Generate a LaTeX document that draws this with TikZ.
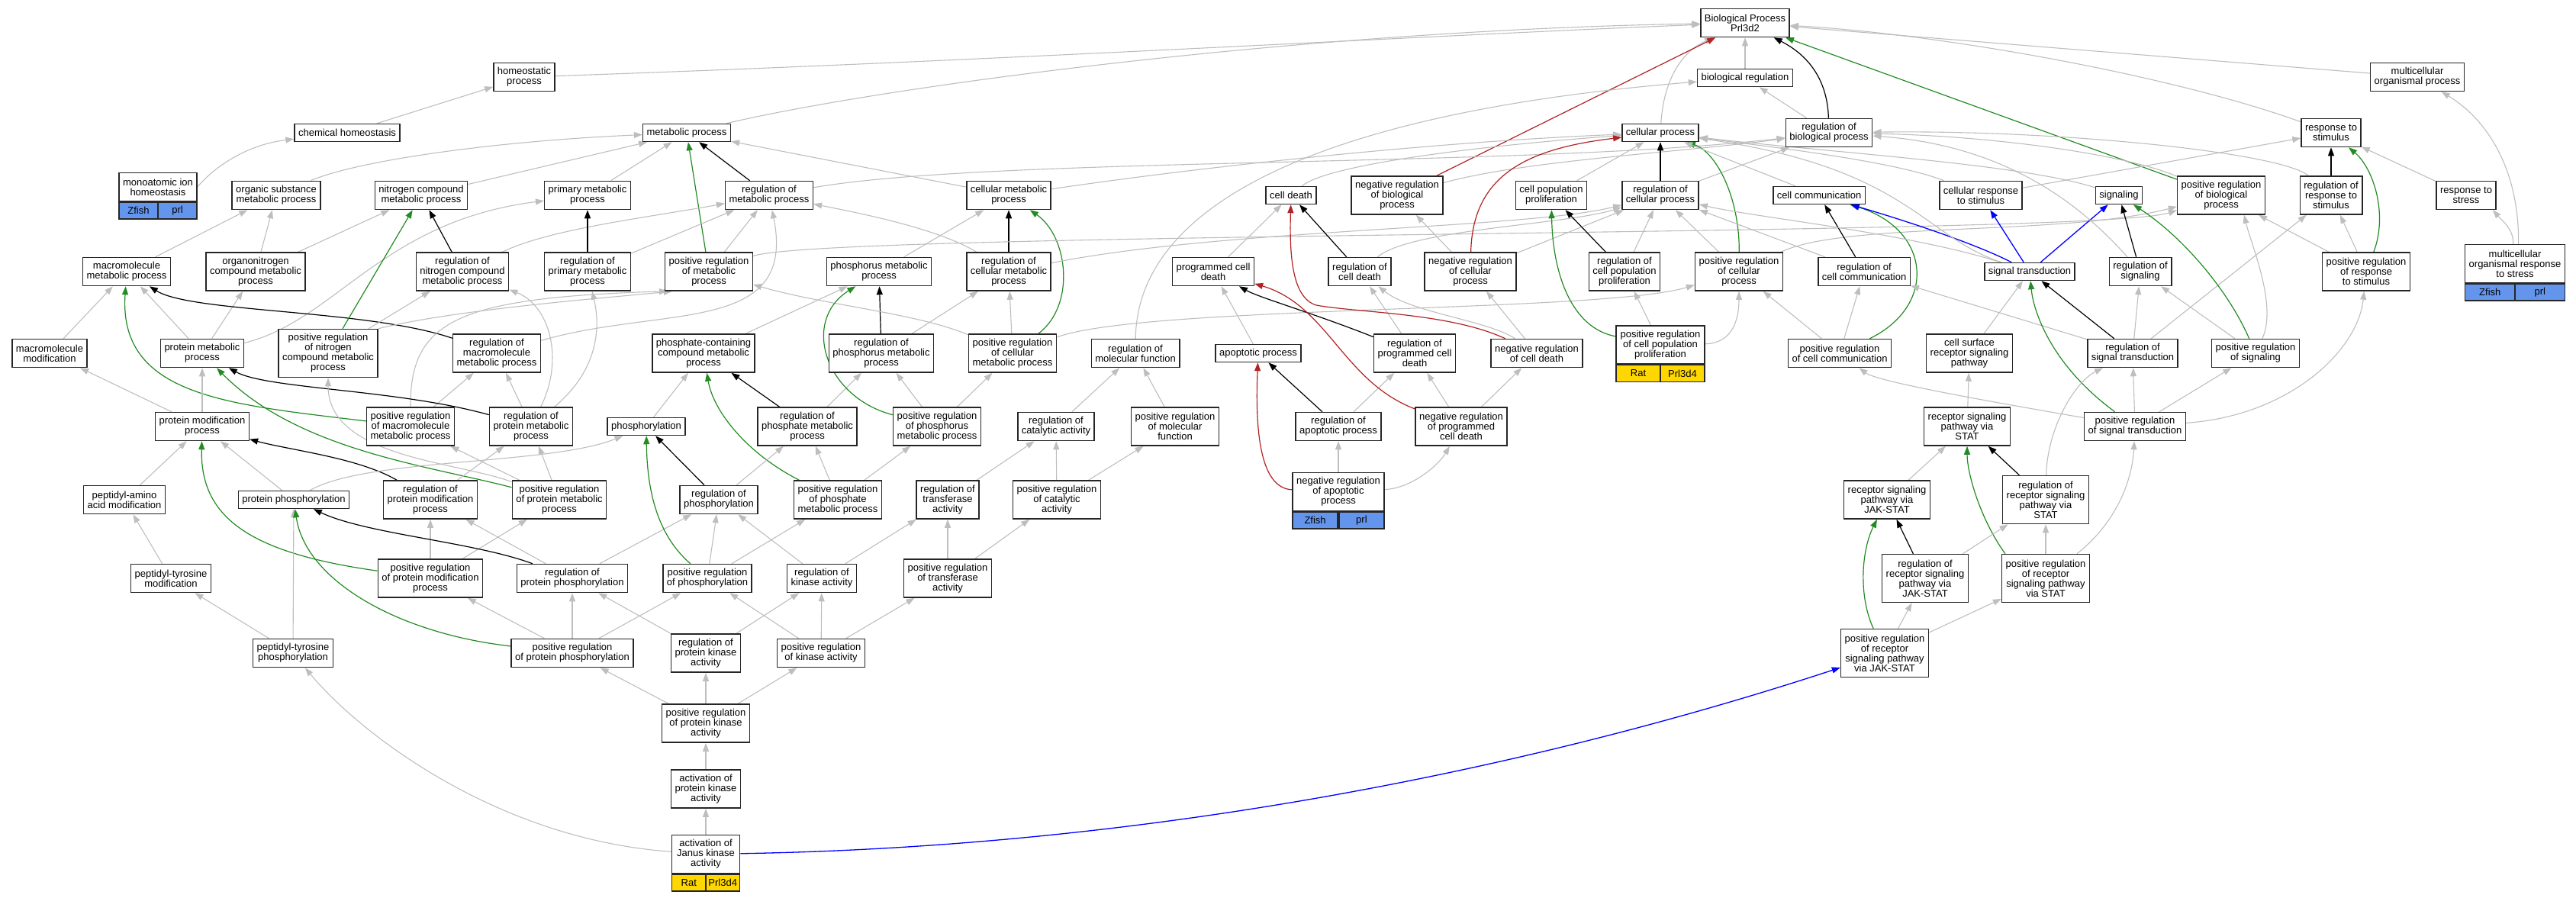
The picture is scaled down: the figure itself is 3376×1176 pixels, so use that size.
\documentclass[tikz,border=0pt]{standalone}
\usepackage{fontspec}
\setmainfont{Liberation Sans}
\usetikzlibrary{arrows.meta}

\definecolor{isagray}{RGB}{190,190,190}
\definecolor{posgreen}{RGB}{34,139,34}
\definecolor{negred}{RGB}{178,34,34}
\definecolor{partblue}{RGB}{0,0,255}
\definecolor{zfishblue}{RGB}{100,149,237}
\definecolor{ratgold}{RGB}{255,215,0}
\newcommand\golabel{\fontsize{13}{13}\selectfont}
\pgfdeclarelayer{edges}
\pgfsetlayers{edges,main}

\tikzset{
  go/.style={draw=black!85, line width=1.5pt, fill=white, font=\golabel, align=center,
    inner xsep=5pt, inner ysep=0pt, minimum height=23pt},
  h2/.style={minimum height=37pt},
  h3/.style={minimum height=50pt},
  h4/.style={minimum height=63pt},
  tag/.style={draw=black!85, line width=1.5pt, font=\golabel, inner sep=0pt, minimum height=22pt},
  isa/.style={color=isagray, line width=1.1pt, -{Triangle[length=11pt,width=8pt]}},
  reg/.style={color=black, line width=1.2pt, -{Triangle[length=11pt,width=8pt]}},
  posreg/.style={color=posgreen, line width=1.2pt, -{Triangle[length=11pt,width=8pt]}},
  negreg/.style={color=negred, line width=1.2pt, -{Triangle[length=11pt,width=8pt]}},
  partof/.style={color=partblue, line width=1.3pt, -{Triangle[length=11pt,width=8pt]}}
}

\begin{document}
\begin{tikzpicture}[x=1pt,y=-1pt]
    \useasboundingbox (0,0) rectangle (3376,1176);

    % rank 0 and 1
    \node[go,h2] (bp) at (2287,30) {Biological Process\\Prl3d2};
    \node[go,h2] (homeo) at (687,101) {homeostatic\\process};
    \node[go] (bioreg) at (2287,102) {biological regulation};
    \node[go,h2] (multi) at (3168,101) {multicellular\\organismal process};

    % rank 2
    \node[go] (chemho) at (455,174) {chemical homeostasis};
    \node[go] (metab) at (900,174) {metabolic process};
    \node[go] (cellp) at (2176,174) {cellular process};
    \node[go,h2] (regbio) at (2397,174) {regulation of\\biological process};
    \node[go,h2] (resp) at (3055,174) {response to\\stimulus};

    % rank 3
    \node[go,h2,minimum width=102pt] (monoion) at (207,245) {monoatomic ion\\homeostasis};
    \node[tag,fill=zfishblue,minimum width=51pt,anchor=north west] (monoion-a) at (monoion.south west) {Zfish};
    \node[tag,fill=zfishblue,minimum width=51pt,anchor=north east] (monoion-b) at (monoion.south east) {prl};
    \node[go,h2] (orgsub) at (362,256) {organic substance\\metabolic process};
    \node[go,h2] (nitro) at (552,256) {nitrogen compound\\metabolic process};
    \node[go,h2] (prim) at (770,256) {primary metabolic\\process};
    \node[go,h2] (regmet) at (1008,256) {regulation of\\metabolic process};
    \node[go,h2] (cellmet) at (1322,256) {cellular metabolic\\process};
    \node[go] (death) at (1692,256) {cell death};
    \node[go,h3] (negbio) at (1831,256) {negative regulation\\of biological\\process};
    \node[go,h2] (prolif) at (2033,256) {cell population\\proliferation};
    \node[go,h2] (regcell) at (2176,256) {regulation of\\cellular process};
    \node[go] (comm) at (2384,256) {cell communication};
    \node[go,h2] (crs) at (2596,256) {cellular response\\to stimulus};
    \node[go] (signaling) at (2777,256) {signaling};
    \node[go,h3] (posbio) at (2911,256) {positive regulation\\of biological\\process};
    \node[go,h3] (regresp) at (3055,256) {regulation of\\response to\\stimulus};
    \node[go,h2] (stress) at (3232,256) {response to\\stress};

    % rank 4
    \node[go,h2] (macro) at (166,356) {macromolecule\\metabolic process};
    \node[go,h3] (orgN) at (335,356) {organonitrogen\\compound metabolic\\process};
    \node[go,h3] (regnitro) at (606,356) {regulation of\\nitrogen compound\\metabolic process};
    \node[go,h3] (regprim) at (770,356) {regulation of\\primary metabolic\\process};
    \node[go,h3] (posmet) at (929,356) {positive regulation\\of metabolic\\process};
    \node[go,h2] (phosphorus) at (1152,356) {phosphorus metabolic\\process};
    \node[go,h3] (regcellmet) at (1322,356) {regulation of\\cellular metabolic\\process};
    \node[go,h2] (pcd) at (1590,356) {programmed cell\\death};
    \node[go,h2] (regdeath) at (1782,356) {regulation of\\cell death};
    \node[go,h3] (negcell) at (1927,356) {negative regulation\\of cellular\\process};
    \node[go,h3] (regprolif) at (2129,356) {regulation of\\cell population\\proliferation};
    \node[go,h3] (poscell) at (2279,356) {positive regulation\\of cellular\\process};
    \node[go,h2] (regcomm) at (2443,356) {regulation of\\cell communication};
    \node[go] (sigtrans) at (2660,356) {signal transduction};
    \node[go,h2] (regsig) at (2805,356) {regulation of\\signaling};
    \node[go,h3] (posresp) at (3101,356) {positive regulation\\of response\\to stimulus};
    \node[go,h3,minimum width=131pt] (mors) at (3296,345.5) {multicellular\\organismal response\\to stress};
    \node[tag,fill=zfishblue,minimum width=65.5pt,anchor=north west] (mors-a) at (mors.south west) {Zfish};
    \node[tag,fill=zfishblue,minimum width=65.5pt,anchor=north east] (mors-b) at (mors.south east) {prl};

    % rank 5
    \node[go,h2] (macromod) at (65,463) {macromolecule\\modification};
    \node[go,h2] (protmet) at (265,463) {protein metabolic\\process};
    \node[go,h4] (posnitro) at (430,463) {positive regulation\\of nitrogen\\compound metabolic\\process};
    \node[go,h3] (regmacro) at (651,463) {regulation of\\macromolecule\\metabolic process};
    \node[go,h3] (phoscont) at (922,463) {phosphate-containing\\compound metabolic\\process};
    \node[go,h3] (regphosph) at (1155,463) {regulation of\\phosphorus metabolic\\process};
    \node[go,h3] (poscellmet) at (1327,463) {positive regulation\\of cellular\\metabolic process};
    \node[go,h2] (regmf) at (1488,463) {regulation of\\molecular function};
    \node[go] (apop) at (1649,463) {apoptotic process};
    \node[go,h3] (regpcd) at (1854,463) {regulation of\\programmed cell\\death};
    \node[go,h2] (negdeath) at (2014,463) {negative regulation\\of cell death};
    \node[go,h3,minimum width=116pt] (posprolif) at (2176,452) {positive regulation\\of cell population\\proliferation};
    \node[tag,fill=ratgold,minimum width=58pt,anchor=north west] (posprolif-a) at (posprolif.south west) {Rat};
    \node[tag,fill=ratgold,minimum width=58pt,anchor=north east] (posprolif-b) at (posprolif.south east) {Prl3d4};
    \node[go,h2] (poscomm) at (2411,463) {positive regulation\\of cell communication};
    \node[go,h3] (csr) at (2581,463) {cell surface\\receptor signaling\\pathway};
    \node[go,h2] (regst) at (2795,463) {regulation of\\signal transduction};
    \node[go,h2] (possig) at (2956,463) {positive regulation\\of signaling};

    % rank 6
    \node[go,h2] (protmod) at (265,559) {protein modification\\process};
    \node[go,h3] (posmacro) at (538,559) {positive regulation\\of macromolecule\\metabolic process};
    \node[go,h3] (regprotmet) at (696,559) {regulation of\\protein metabolic\\process};
    \node[go] (phos) at (847,559) {phosphorylation};
    \node[go,h3] (regphosphate) at (1058,559) {regulation of\\phosphate metabolic\\process};
    \node[go,h3] (posphosph) at (1228,559) {positive regulation\\of phosphorus\\metabolic process};
    \node[go,h2] (regcat) at (1384,559) {regulation of\\catalytic activity};
    \node[go,h3] (posmf) at (1540,559) {positive regulation\\of molecular\\function};
    \node[go,h2] (regapop) at (1754,559) {regulation of\\apoptotic process};
    \node[go,h3] (negpcd) at (1915,559) {negative regulation\\of programmed\\cell death};
    \node[go,h3] (rstat) at (2578,559) {receptor signaling\\pathway via\\STAT};
    \node[go,h2] (posst) at (2798,559) {positive regulation\\of signal transduction};

    % rank 7
    \node[go,h2] (pepaa) at (163,655) {peptidyl-amino\\acid modification};
    \node[go] (protphos) at (385,655) {protein phosphorylation};
    \node[go,h3] (regprotmod) at (564,655) {regulation of\\protein modification\\process};
    \node[go,h3] (posprotmet) at (733,655) {positive regulation\\of protein metabolic\\process};
    \node[go,h2] (regphos) at (942,655) {regulation of\\phosphorylation};
    \node[go,h3] (posphosphate) at (1098,655) {positive regulation\\of phosphate\\metabolic process};
    \node[go,h3] (regtrans) at (1242,655) {regulation of\\transferase\\activity};
    \node[go,h3] (poscat) at (1385,655) {positive regulation\\of catalytic\\activity};
    \node[go,h3,minimum width=118pt] (negapop) at (1754,644.5) {negative regulation\\of apoptotic\\process};
    \node[tag,fill=zfishblue,minimum width=59pt,anchor=north west] (negapop-a) at (negapop.south west) {Zfish};
    \node[tag,fill=zfishblue,minimum width=59pt,anchor=north east] (negapop-b) at (negapop.south east) {prl};
    \node[go,h3] (rjak) at (2473,655) {receptor signaling\\pathway via\\JAK-STAT};
    \node[go,h4] (regrstat) at (2681,655) {regulation of\\receptor signaling\\pathway via\\STAT};

    % rank 8
    \node[go,h2] (peptyrmod) at (224,758) {peptidyl-tyrosine\\modification};
    \node[go,h3] (posprotmod) at (564,758) {positive regulation\\of protein modification\\process};
    \node[go,h2] (regprotphos) at (750,758) {regulation of\\protein phosphorylation};
    \node[go,h2] (posphos) at (927,758) {positive regulation\\of phosphorylation};
    \node[go,h2] (regkin) at (1077,758) {regulation of\\kinase activity};
    \node[go,h3] (postrans) at (1242,758) {positive regulation\\of transferase\\activity};
    \node[go,h4] (regrjak) at (2523,758) {regulation of\\receptor signaling\\pathway via\\JAK-STAT};
    \node[go,h4] (posrstat) at (2681,758) {positive regulation\\of receptor\\signaling pathway\\via STAT};

    % rank 9 and below
    \node[go,h2] (peptyrphos) at (384,856) {peptidyl-tyrosine\\phosphorylation};
    \node[go,h2] (posprotphos) at (750,856) {positive regulation\\of protein phosphorylation};
    \node[go,h3] (regprotkin) at (925,856) {regulation of\\protein kinase\\activity};
    \node[go,h2] (poskin) at (1076,856) {positive regulation\\of kinase activity};
    \node[go,h4] (posrjak) at (2470,856) {positive regulation\\of receptor\\signaling pathway\\via JAK-STAT};
    \node[go,h3] (posprotkin) at (925,948) {positive regulation\\of protein kinase\\activity};
    \node[go,h3] (actpk) at (925,1034) {activation of\\protein kinase\\activity};
    \node[go,h3,minimum width=89pt] (actjak) at (925,1119.5) {activation of\\Janus kinase\\activity};
    \node[tag,fill=ratgold,minimum width=44.5pt,anchor=north west] (actjak-a) at (actjak.south west) {Rat};
    \node[tag,fill=ratgold,minimum width=44.5pt,anchor=north east] (actjak-b) at (actjak.south east) {Prl3d4};

    \begin{pgfonlayer}{edges}
    % top of the graph
    \draw[isa] (homeo) .. controls (1300,80) and (1900,45) .. (bp);
    \draw[isa] (metab) .. controls (1150,115) and (1700,40) .. (bp);
    \draw[isa] (chemho) -- (homeo);
    \draw[isa] (monoion.east) .. controls (278,222) and (320,190) .. (chemho);
    \draw[isa] (cellp) .. controls (2180,110) and (2200,70) .. (bp);
    \draw[isa] (bioreg) -- (bp);
    \draw[reg] (regbio) .. controls (2395,110) and (2375,75) .. (bp);
    \draw[isa] (regbio) -- (bioreg);
    \draw[negreg] (negbio) -- (bp);
    \draw[posreg] (posbio) -- (bp);
    \draw[isa] (multi) -- (bp);
    \draw[isa] (resp) .. controls (2850,100) and (2550,45) .. (bp);
    \draw[isa] (regmf) .. controls (1490,280) and (1700,150) .. (bioreg);

    % metabolic processes
    \draw[isa] (orgsub) .. controls (470,210) and (650,185) .. (metab);
    \draw[isa] (nitro) -- (metab);
    \draw[isa] (prim) -- (metab);
    \draw[reg] (regmet) -- (metab);
    \draw[posreg] (posmet) -- (metab);
    \draw[isa] (cellmet) -- (metab);
    \draw[isa] (macro) -- (orgsub);
    \draw[isa] (orgN) -- (orgsub);
    \draw[isa] (orgN) -- (nitro);
    \draw[isa] (protmet) .. controls (440,420) and (500,290) .. (prim);
    \draw[isa] (protmet) -- (macro);
    \draw[isa] (protmet) -- (orgN);
    \draw[isa] (macromod) -- (macro);
    \draw[reg] (regmacro) .. controls (480,405) and (250,410) .. (macro);
    \draw[posreg] (posmacro) .. controls (300,530) and (155,520) .. (macro);
    \draw[posreg] (posnitro) -- (nitro);
    \draw[reg] (regnitro) -- (nitro);
    \draw[isa] (regnitro) .. controls (720,300) and (850,285) .. (regmet);
    \draw[reg] (regprim) -- (prim);
    \draw[isa] (regprim) -- (regmet);
    \draw[isa] (posmet) -- (regmet);
    \draw[isa] (posnitro) -- (regnitro);
    \draw[isa] (posnitro.north east) .. controls (600,405) and (800,390) .. ([xshift=10pt]posmet.south west);
    \draw[isa] (regmacro) .. controls (870,400) and (1045,440) .. (regmet);
    \draw[isa] (regprotmet) -- (regmacro);
    \draw[isa] (posmacro) -- (regmacro);
    \draw[isa] (posmacro.north) .. controls (537,420) and (600,390) .. ([xshift=4pt]posmet.south west);
    \draw[isa] (regprotmet) .. controls (740,470) and (720,400) .. (regnitro);
    \draw[isa] (regprotmet) .. controls (790,480) and (785,420) .. (regprim);
    \draw[isa] (protmod) -- (protmet);
    \draw[isa] (protmod) -- (macromod);
    \draw[reg] (regprotmet) .. controls (520,510) and (350,510) .. (protmet);
    \draw[posreg] (posprotmet) .. controls (560,610) and (390,590) .. (protmet);
    \draw[isa] (posprotmet) -- (regprotmet);
    \draw[isa] (posprotmet) -- (posmacro);
    \draw[isa] (posprotmet) .. controls (600,605) and (430,600) .. (posnitro);
    \draw[reg] (regprotmod) .. controls (470,600) and (380,590) .. (protmod);
    \draw[isa] (regprotmod) -- (regprotmet);
    \draw[posreg] (posprotmod) .. controls (330,725) and (262,680) .. (protmod);
    \draw[isa] (posprotmod) -- (regprotmod);
    \draw[isa] (posprotmod) -- (posprotmet);
    \draw[isa] (protphos) -- (protmod);
    \draw[isa] (protphos) .. controls (480,600) and (720,610) .. (phos);
    \draw[isa] (pepaa) -- (protmod);
    \draw[isa] (peptyrmod) -- (pepaa);
    \draw[isa] (peptyrphos) -- (peptyrmod);
    \draw[isa] (peptyrphos) -- (protphos);
    \draw[reg] (regprotphos) .. controls (620,710) and (480,700) .. (protphos);
    \draw[isa] (regprotphos) -- (regprotmod);
    \draw[isa] (regprotphos) -- (regphos);
    \draw[posreg] (posprotphos) .. controls (520,830) and (400,760) .. (protphos);
    \draw[isa] (posprotphos) -- (posprotmod);
    \draw[isa] (posprotphos) -- (regprotphos);
    \draw[isa] (posprotphos) -- (posphos);
    \draw[isa] (phos) -- (phoscont);
    \draw[reg] (regphosphate) -- (phoscont);
    \draw[posreg] (posphosphate) .. controls (980,595) and (935,540) .. (phoscont);
    \draw[isa] (regphosphate) -- (regphosph);
    \draw[isa] (posphosphate) -- (regphosphate);
    \draw[isa] (posphosphate) -- (posphosph);
    \draw[reg] (regphos) -- (phos);
    \draw[isa] (regphos) -- (regphosphate);
    \draw[posreg] (posphos) .. controls (860,700) and (848,640) .. (phos);
    \draw[isa] (posphos) -- (regphos);
    \draw[isa] (posphos) -- (posphosphate);
    \draw[isa] (regkin) -- (regphos);
    \draw[isa] (regkin) -- (regtrans);
    \draw[isa] (regprotkin) -- (regprotphos);
    \draw[isa] (regprotkin) -- (regkin);
    \draw[isa] (poskin) -- (posphos);
    \draw[isa] (poskin) -- (regkin);
    \draw[isa] (poskin) -- (postrans);
    \draw[isa] (posprotkin) -- (posprotphos);
    \draw[isa] (posprotkin) -- (regprotkin);
    \draw[isa] (posprotkin) -- (poskin);
    \draw[isa] (actpk) -- (posprotkin);
    \draw[isa] (actjak) -- (actpk);
    \draw[isa] (actjak) .. controls (650,1100) and (470,960) .. (peptyrphos);
    \draw[partof] (actjak) .. controls (1500,1110) and (2000,1010) .. (posrjak);
    \draw[isa] (regtrans) -- (regcat);
    \draw[isa] (poscat) -- (regcat);
    \draw[isa] (poscat) -- (posmf);
    \draw[isa] (postrans) -- (regtrans);
    \draw[isa] (postrans) -- (poscat);
    \draw[isa] (regcat) -- (regmf);
    \draw[isa] (posmf) -- (regmf);
    \draw[isa] (cellmet) .. controls (1600,215) and (1900,185) .. (cellp);
    \draw[isa] (phosphorus) -- (cellmet);
    \draw[reg] (regcellmet) -- (cellmet);
    \draw[posreg] (poscellmet) .. controls (1410,400) and (1400,310) .. (cellmet);
    \draw[isa] (regcellmet) .. controls (1230,300) and (1130,280) .. (regmet);
    \draw[isa] (regcellmet) .. controls (1600,300) and (2000,300) .. (regcell);
    \draw[reg] (regphosph) -- (phosphorus);
    \draw[isa] (regphosph) -- (regcellmet);
    \draw[isa] (poscellmet) -- (regcellmet);
    \draw[isa] (poscellmet) .. controls (1200,410) and (1080,400) .. (posmet);
    \draw[isa] (poscellmet) .. controls (1500,400) and (2100,410) .. (poscell);
    \draw[isa] (posmet) .. controls (1080,303) and (2750,310) .. (posbio);
    \draw[posreg] (posphosph) .. controls (1080,520) and (1050,420) .. (phosphorus);
    \draw[isa] (posphosph) -- (regphosph);
    \draw[isa] (posphosph) -- (poscellmet);
    \draw[isa] (phoscont) -- (phosphorus);

    % cell death
    \draw[isa] (apop) -- (pcd);
    \draw[isa] (pcd) -- (death);
    \draw[isa] (death) .. controls (1740,215) and (1950,190) .. (cellp);
    \draw[reg] (regdeath) -- (death);
    \draw[isa] (regdeath) .. controls (1850,300) and (2050,295) .. (regcell);
    \draw[reg] (regapop) -- (apop);
    \draw[isa] (regapop) -- (regpcd);
    \draw[reg] (regpcd) .. controls (1720,410) and (1650,390) .. (pcd);
    \draw[isa] (regpcd) -- (regdeath);
    \draw[negreg] (negpcd) .. controls (1760,500) and (1740,400) .. (pcd);
    \draw[isa] (negpcd) -- (regpcd);
    \draw[isa] (negpcd) -- (negdeath);
    \draw[negreg] (negdeath) .. controls (1900,410) and (1780,410) .. (1725,400) .. controls (1692,390) and (1690,330) .. (death);
    \draw[isa] (negdeath) .. controls (1950,420) and (1850,410) .. (regdeath);
    \draw[isa] (negdeath) -- (negcell);
    \draw[isa] (negapop) -- (regapop);
    \draw[isa] (negapop) .. controls (1850,640) and (1885,610) .. (negpcd);
    \draw[negreg] (negapop) .. controls (1650,640) and (1645,560) .. (apop);

    % cellular and biological regulation
    \draw[isa] (negbio) .. controls (2000,210) and (2200,200) .. (regbio);
    \draw[isa] (regmet) .. controls (1300,205) and (2000,220) .. (regbio);
    \draw[isa] (negcell) -- (negbio);
    \draw[negreg] (negcell) .. controls (1930,230) and (2000,195) .. (cellp);
    \draw[isa] (negcell) -- (regcell);
    \draw[isa] (prolif) -- (cellp);
    \draw[reg] (regprolif) -- (prolif);
    \draw[isa] (regprolif) -- (regcell);
    \draw[posreg] (posprolif) .. controls (2060,430) and (2035,360) .. (prolif);
    \draw[isa] (posprolif) -- (regprolif);
    \draw[isa] (posprolif) .. controls (2270,450) and (2279,420) .. (poscell);
    \draw[reg] (regcell) -- (cellp);
    \draw[isa] (regcell) -- (regbio);
    \draw[posreg] (poscell) .. controls (2280,260) and (2250,200) .. (cellp);
    \draw[isa] (poscell) -- (regcell);
    \draw[isa] (poscell) .. controls (2420,290) and (2700,310) .. (posbio);
    \draw[isa] (comm) -- (cellp);
    \draw[reg] (regcomm) -- (comm);
    \draw[isa] (regcomm) -- (regcell);
    \draw[posreg] (poscomm) .. controls (2540,400) and (2530,300) .. (comm);
    \draw[isa] (poscomm) -- (regcomm);
    \draw[isa] (poscomm) -- (poscell);
    \draw[partof] (sigtrans) .. controls (2590,320) and (2500,290) .. (comm);
    \draw[partof] (sigtrans) -- (crs);
    \draw[partof] (sigtrans) -- (signaling);
    \draw[isa] (sigtrans) .. controls (2520,310) and (2500,220) .. (cellp);
    \draw[isa] (sigtrans) .. controls (2500,305) and (2300,285) .. (regcell);
    \draw[isa] (crs) .. controls (2480,210) and (2300,190) .. (cellp);
    \draw[isa] (crs) -- (resp);
    \draw[isa] (signaling) .. controls (2650,215) and (2400,200) .. (cellp);
    \draw[reg] (regsig) -- (signaling);
    \draw[isa] (regsig) .. controls (2720,260) and (2620,190) .. (regbio);
    \draw[isa] (posbio) .. controls (2780,200) and (2600,178) .. (regbio);
    \draw[isa] (regresp) .. controls (2990,200) and (2700,170) .. (regbio);
    \draw[reg] (regresp) -- (resp);
    \draw[posreg] (posresp) .. controls (3130,280) and (3110,220) .. (resp);
    \draw[isa] (posresp) -- (regresp);
    \draw[isa] (posresp) -- (posbio);
    \draw[isa] (stress) -- (resp);
    \draw[isa] (mors.95) .. controls (3294,300) and (3280,290) .. ([xshift=-5pt]stress.south east);
    \draw[isa] (mors.80) .. controls (3302,230) and (3265,160) .. (multi);

    % signalling
    \draw[reg] (regst) -- (sigtrans);
    \draw[isa] (regst) -- (regcomm);
    \draw[isa] (regst) -- (regsig);
    \draw[isa] (regst) -- (regresp);
    \draw[posreg] (possig) .. controls (2920,380) and (2860,310) .. (signaling);
    \draw[isa] (possig) -- (regsig);
    \draw[isa] (possig) .. controls (2985,400) and (2950,320) .. ([xshift=30pt]posbio.south);
    \draw[isa] (csr) -- (sigtrans);
    \draw[posreg] (posst) .. controls (2690,480) and (2665,410) .. (sigtrans);
    \draw[isa] (posst) -- (regst);
    \draw[isa] (posst) -- (possig);
    \draw[isa] (posst) .. controls (2600,525) and (2460,500) .. (poscomm);
    \draw[isa] (posst) .. controls (3000,545) and (3090,460) .. (posresp);
    \draw[isa] (rstat) -- (csr);
    \draw[reg] (regrstat) -- (rstat);
    \draw[isa] (regrstat) .. controls (2683,560) and (2720,500) .. (regst);
    \draw[posreg] ([xshift=5pt]posrstat.north west) .. controls (2595,680) and (2578,620) .. (rstat);
    \draw[isa] (posrstat) -- (regrstat);
    \draw[isa] (posrstat) .. controls (2780,680) and (2795,620) .. (posst);
    \draw[isa] (rjak) -- (rstat);
    \draw[reg] (regrjak) -- (rjak);
    \draw[isa] (regrjak) -- (regrstat);
    \draw[posreg] (posrjak) .. controls (2435,780) and (2440,720) .. (rjak);
    \draw[isa] (posrjak) -- (regrjak);
    \draw[isa] (posrjak) -- (posrstat);
    \end{pgfonlayer}
\end{tikzpicture}
\end{document}
